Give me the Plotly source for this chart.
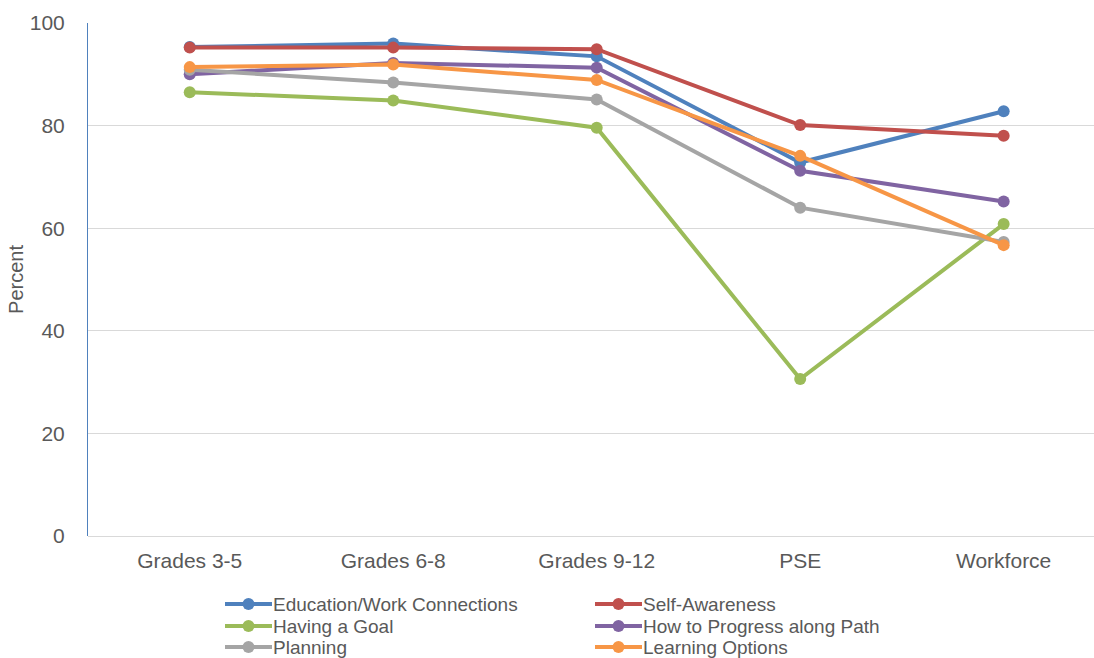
import plotly.graph_objects as go

# Survey categories along the x axis
categories = ["Grades 3-5", "Grades 6-8", "Grades 9-12", "PSE", "Workforce"]

# Percent values per series
education_work = [95.3, 96.0, 93.5, 72.8, 82.8]
self_awareness = [95.2, 95.2, 94.9, 80.1, 78.0]
having_goal = [86.5, 84.9, 79.6, 30.6, 60.8]
progress_path = [90.0, 92.2, 91.3, 71.2, 65.2]
planning = [90.9, 88.4, 85.1, 64.0, 57.3]
learning_options = [91.4, 91.9, 88.9, 74.1, 56.7]

series = [
    ("Education/Work Connections", education_work, "#4F81BD"),
    ("Self-Awareness", self_awareness, "#C0504D"),
    ("Having a Goal", having_goal, "#9BBB59"),
    ("How to Progress along Path", progress_path, "#8064A2"),
    ("Planning", planning, "#A5A5A5"),
    ("Learning Options", learning_options, "#F79646"),
]

font_family = "Liberation Sans, Arial, sans-serif"
text_color = "#595959"

W, H = 1094, 658
M_L, M_R, M_T, M_B = 88, 0, 23, 122
plot_w = W - M_L - M_R
plot_h = H - M_T - M_B


def px_to_paper(px, py):
    return (px - M_L) / plot_w, (H - M_B - py) / plot_h


fig = go.Figure()
for name, values, color in series:
    fig.add_trace(go.Scatter(
        x=categories, y=values, name=name, mode="lines+markers",
        line=dict(color=color, width=4),
        marker=dict(color=color, size=12),
        showlegend=False,
    ))

# Compact two-column legend below the plot
shapes, annotations = [], []
col_x = [225, 595]
row_y = [604, 626, 647]
for i, (name, _, color) in enumerate(series):
    cx = col_x[i % 2]
    cy = row_y[i // 2]
    x0, y0 = px_to_paper(cx, cy)
    x1, _ = px_to_paper(cx + 47, cy)
    xm, _ = px_to_paper(cx + 23.5, cy)
    shapes.append(dict(type="line", xref="paper", yref="paper",
                       x0=x0, x1=x1, y0=y0, y1=y0,
                       line=dict(color=color, width=4)))
    shapes.append(dict(type="circle", xref="paper", yref="paper",
                       xsizemode="pixel", ysizemode="pixel",
                       xanchor=xm, yanchor=y0, x0=-6, x1=6, y0=-6, y1=6,
                       fillcolor=color, line=dict(color=color, width=0)))
    tx, _ = px_to_paper(cx + 47, cy)
    annotations.append(dict(text=name, xref="paper", yref="paper",
                            x=tx, y=y0, xanchor="left", yanchor="middle",
                            showarrow=False, borderpad=0,
                            font=dict(size=19, color=text_color, family=font_family)))

fig.update_layout(
    width=W, height=H,
    margin=dict(l=M_L, r=M_R, t=M_T, b=M_B, autoexpand=False),
    paper_bgcolor="white", plot_bgcolor="white",
    font=dict(family=font_family, color=text_color, size=21),
    showlegend=False,
    shapes=shapes,
    annotations=annotations,
    xaxis=dict(
        range=[-0.5, 4.444], showgrid=False, showline=False, zeroline=False,
        ticks="", ticklabelstandoff=10, tickfont=dict(size=21, color=text_color),
    ),
    yaxis=dict(
        range=[0, 100], dtick=20, showgrid=True, gridcolor="#D9D9D9", gridwidth=1,
        showline=True, linecolor="#4F81BD", linewidth=1,
        zeroline=True, zerolinecolor="#D9D9D9", zerolinewidth=1,
        ticks="", ticklabelstandoff=18,
        tickfont=dict(size=21, color=text_color),
        title=dict(text="Percent", font=dict(size=20, color=text_color), standoff=0),
    ),
)

fig.write_html("out.html")
